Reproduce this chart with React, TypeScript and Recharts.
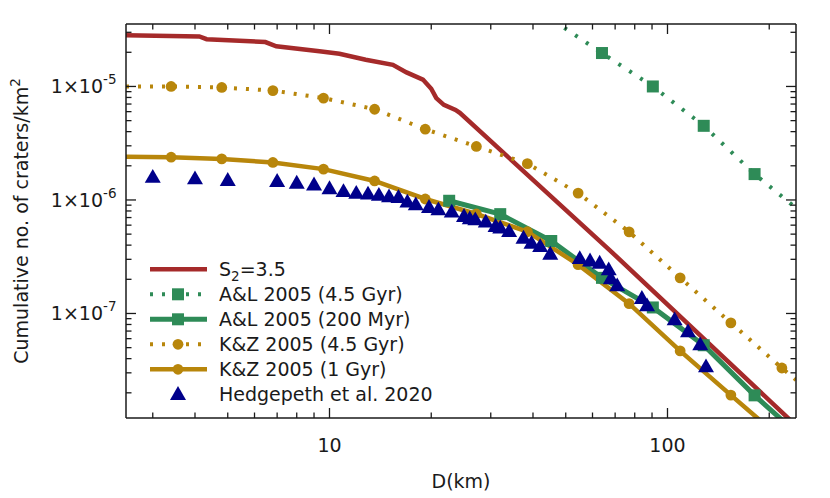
import React from "react";
import { ComposedChart, Line, Scatter, XAxis, YAxis, Legend, Label } from "recharts";

const FONT = '"DejaVu Sans", Verdana, sans-serif';
const INK = "#1a1a1a";
const RED = "#a52a2a";
const GREEN = "#2e8b57";
const GOLD = "#b8860b";
const BLUE = "#00008b";

// S2 = 3.5 model curve
const s2D = [2.5, 4.12, 4.33, 6.46, 6.96, 9.34, 10.7, 12.8, 15.4, 16.9, 18.9, 20.0, 20.7, 21.8, 23.6, 24.3, 67.4, 240];
const s2N = [2.83e-5, 2.76e-5, 2.61e-5, 2.46e-5, 2.26e-5, 2.04e-5, 1.94e-5, 1.72e-5, 1.55e-5, 1.33e-5, 1.15e-5, 9.55e-6, 7.9e-6, 6.89e-6, 6.22e-6, 5.86e-6, 3.62e-7, 1.03e-8];

// A&L 2005, 4.5 Gyr (first and last are line ends only)
const al45D = [46, 64, 90.5, 128, 181, 240];
const al45N = [3.8e-5, 1.97e-5, 1.0e-5, 4.5e-6, 1.69e-6, 8.5e-7];

// A&L 2005, 200 Myr (last is line end only)
const al200D = [22.6, 32, 45.3, 64, 90.5, 128, 181, 256];
const al200N = [9.84e-7, 7.5e-7, 4.35e-7, 2.06e-7, 1.13e-7, 5.25e-8, 1.9e-8, 7.5e-9];

// K&Z 2005 (first and last are line ends only)
const kz45D = [2.5, 3.4, 4.8, 6.8, 9.6, 13.6, 19.2, 27.2, 38.5, 54.4, 77, 109, 154, 218, 240];
const kz45N = [1.0e-5, 1.0e-5, 9.8e-6, 9.2e-6, 7.9e-6, 6.3e-6, 4.2e-6, 2.96e-6, 2.09e-6, 1.15e-6, 5.24e-7, 2.06e-7, 8.26e-8, 3.31e-8, 2.6e-8];
const kz1D = [2.5, 3.4, 4.8, 6.8, 9.6, 13.6, 19.2, 27.2, 38.5, 54.4, 77, 109, 154, 218];
const kz1N = [2.4e-6, 2.38e-6, 2.3e-6, 2.14e-6, 1.87e-6, 1.47e-6, 1.02e-6, 7.52e-7, 5.25e-7, 2.69e-7, 1.22e-7, 4.68e-8, 1.91e-8, 7.8e-9];

// Hedgepeth et al. 2020
const hD = [3, 4, 5, 7, 8, 9, 10, 11, 12, 13, 14, 15, 16, 17, 18, 19.7, 21, 23, 25, 26, 27, 29, 31, 32, 34, 37.5, 39.6, 42, 45, 55, 59, 63, 67, 68, 71, 84, 87, 105, 115, 125, 130];
const hN = [1.59e-6, 1.54e-6, 1.49e-6, 1.46e-6, 1.41e-6, 1.36e-6, 1.26e-6, 1.19e-6, 1.15e-6, 1.13e-6, 1.1e-6, 1.07e-6, 1.056e-6, 9.6e-7, 9.09e-7, 8.62e-7, 8.21e-7, 7.84e-7, 7.18e-7, 6.84e-7, 6.7e-7, 6.4e-7, 5.86e-7, 5.66e-7, 5.29e-7, 4.62e-7, 4.17e-7, 3.9e-7, 3.34e-7, 3.05e-7, 2.91e-7, 2.78e-7, 2.43e-7, 2.03e-7, 1.76e-7, 1.36e-7, 1.17e-7, 8.82e-8, 6.91e-8, 5.31e-8, 3.4e-8];

const xTicks = [3, 4, 5, 6, 7, 8, 9, 10, 20, 30, 40, 50, 60, 70, 80, 90, 100, 200];
const yTicks = [
  2e-8, 3e-8, 4e-8, 5e-8, 6e-8, 7e-8, 8e-8, 9e-8, 1e-7,
  2e-7, 3e-7, 4e-7, 5e-7, 6e-7, 7e-7, 8e-7, 9e-7, 1e-6,
  2e-6, 3e-6, 4e-6, 5e-6, 6e-6, 7e-6, 8e-6, 9e-6, 1e-5,
  2e-5, 3e-5,
];

const pts = (d: number[], n: number[]) => d.map((v, i) => ({ d: v, n: n[i] }));

const s2Line = pts(s2D, s2N);
const al45Line = pts(al45D, al45N);
const al200Line = pts(al200D, al200N);
const kz45Line = pts(kz45D, kz45N);
const kz1Line = pts(kz1D, kz1N);
const hedgepeth = pts(hD, hN);

const isMajor = (v: number) => Math.abs(Math.log10(v) - Math.round(Math.log10(v))) < 1e-6;

const Square = ({ cx, cy, fill }: any) => <rect x={cx - 6} y={cy - 6} width={12} height={12} fill={fill} />;
const Dot = ({ cx, cy, fill }: any) => <circle cx={cx} cy={cy} r={5.4} fill={fill} />;
const Tri = ({ cx, cy, fill }: any) => (
  <path d={`M${cx},${cy - 8.2}L${cx + 8},${cy + 5.6}L${cx - 8},${cy + 5.6}Z`} fill={fill} />
);

function BottomTick({ x, y, payload }: any) {
  const v = payload.value;
  const major = isMajor(v);
  return (
    <g>
      <line x1={x} x2={x} y1={y} y2={y - (major ? 10 : 5.5)} stroke={INK} strokeWidth={1.3} />
      {major && (
        <text x={x} y={y + 33.5} textAnchor="middle" fontSize={19} fontFamily={FONT} fill={INK}>
          {v}
        </text>
      )}
    </g>
  );
}

function TopTick({ x, y, payload }: any) {
  const major = isMajor(payload.value);
  return <line x1={x} x2={x} y1={y} y2={y + (major ? 10 : 5.5)} stroke={INK} strokeWidth={1.3} />;
}

function LeftTick({ x, y, payload }: any) {
  const v = payload.value;
  const major = isMajor(v);
  return (
    <g>
      <line x1={x} x2={x + (major ? 10 : 5.5)} y1={y} y2={y} stroke={INK} strokeWidth={1.3} />
      {major && (
        <text x={x - 9.5} y={y + 7} textAnchor="end" fontSize={19} fontFamily={FONT} fill={INK}>
          <tspan>1×10</tspan>
          <tspan dy={-9} fontSize={13.5}>{Math.round(Math.log10(v))}</tspan>
        </text>
      )}
    </g>
  );
}

function RightTick({ x, y, payload }: any) {
  const major = isMajor(payload.value);
  return <line x1={x} x2={x - (major ? 10 : 5.5)} y1={y} y2={y} stroke={INK} strokeWidth={1.3} />;
}

const legendRows = [
  { name: "S2=3.5", color: RED, dash: undefined, mark: null, width: 4.5 },
  { name: "A&L 2005 (4.5 Gyr)", color: GREEN, dash: "3 9", mark: "square", width: 4 },
  { name: "A&L 2005 (200 Myr)", color: GREEN, dash: undefined, mark: "square", width: 5 },
  { name: "K&Z 2005 (4.5 Gyr)", color: GOLD, dash: "3 9", mark: "circle", width: 4 },
  { name: "K&Z 2005 (1 Gyr)", color: GOLD, dash: undefined, mark: "circle", width: 4.5 },
  { name: "Hedgepeth et al. 2020", color: BLUE, dash: null, mark: "triangle", width: 0 },
];

function LegendBox() {
  return (
    <svg width={310} height={160} style={{ display: "block" }}>
      {legendRows.map((r, i) => {
        const cy = 14.3 + i * 25;
        const cx = 38;
        return (
          <g key={r.name}>
            {r.dash !== null && (
              <line x1={10} x2={67} y1={cy} y2={cy} stroke={r.color} strokeWidth={r.width} strokeDasharray={r.dash} />
            )}
            {r.mark === "square" && <Square cx={cx} cy={cy} fill={r.color} />}
            {r.mark === "circle" && <Dot cx={cx} cy={cy} fill={r.color} />}
            {r.mark === "triangle" && <Tri cx={cx} cy={cy} fill={r.color} />}
            {i === 0 ? (
              <text x={79} y={cy + 7} fontSize={19} fontFamily={FONT} fill={INK}>
                <tspan>S</tspan>
                <tspan dy={5} fontSize={13.5}>2</tspan>
                <tspan dy={-5}>=3.5</tspan>
              </text>
            ) : (
              <text x={79} y={cy + 7} fontSize={19} fontFamily={FONT} fill={INK}>
                {r.name}
              </text>
            )}
          </g>
        );
      })}
    </svg>
  );
}

const axisLine = { stroke: INK, strokeWidth: 1.5 };

export default function App() {
  return (
    <div style={{ position: "relative", width: 822, height: 490 }}>
      <ComposedChart width={822} height={490} margin={{ top: 15, right: 33, left: 0, bottom: 0 }}>
        <XAxis
          dataKey="d"
          type="number"
          scale="log"
          domain={[2.5, 240]}
          allowDataOverflow
          ticks={xTicks}
          interval={0}
          tickSize={0}
          tickMargin={0}
          tickLine={false}
          axisLine={axisLine}
          tick={<BottomTick />}
          height={80}
        >
          <Label
            content={() => (
              <text x={453} y={480} textAnchor="middle" fontSize={19} fontFamily={FONT} fill={INK}>
                D(km)
              </text>
            )}
          />
        </XAxis>
        <XAxis
          xAxisId="top"
          orientation="top"
          dataKey="d"
          type="number"
          scale="log"
          domain={[2.5, 240]}
          allowDataOverflow
          ticks={xTicks}
          interval={0}
          tickSize={0}
          tickMargin={0}
          tickLine={false}
          axisLine={axisLine}
          tick={<TopTick />}
          height={1}
        />
        <YAxis
          dataKey="n"
          type="number"
          scale="log"
          domain={[1.2e-8, 3.55e-5]}
          allowDataOverflow
          ticks={yTicks}
          interval={0}
          tickSize={0}
          tickMargin={0}
          tickLine={false}
          axisLine={axisLine}
          tick={<LeftTick />}
          width={118}
        >
          <Label
            content={() => (
              <text
                x={20}
                y={213}
                transform="rotate(-90 20 213)"
                textAnchor="middle"
                fontSize={19}
                fontFamily={FONT}
                fill={INK}
              >
                <tspan>Cumulative no. of craters/km</tspan>
                <tspan dy={-8} fontSize={13.5}>2</tspan>
              </text>
            )}
          />
        </YAxis>
        <YAxis
          yAxisId="right"
          orientation="right"
          dataKey="n"
          type="number"
          scale="log"
          domain={[1.2e-8, 3.55e-5]}
          allowDataOverflow
          ticks={yTicks}
          interval={0}
          tickSize={0}
          tickMargin={0}
          tickLine={false}
          axisLine={axisLine}
          tick={<RightTick />}
          width={1}
        />

        <Line data={s2Line} dataKey="n" type="linear" stroke={RED} strokeWidth={4.5} dot={false} isAnimationActive={false} />

        <Line data={al45Line} dataKey="n" type="linear" stroke={GREEN} strokeWidth={4} strokeDasharray="3 10" dot={false} isAnimationActive={false} />
        <Scatter data={al45Line.slice(1, -1)} dataKey="n" fill={GREEN} shape={<Square />} isAnimationActive={false} />

        <Line data={al200Line} dataKey="n" type="linear" stroke={GREEN} strokeWidth={5} dot={false} isAnimationActive={false} />
        <Scatter data={al200Line.slice(0, -1)} dataKey="n" fill={GREEN} shape={<Square />} isAnimationActive={false} />

        <Line data={kz45Line} dataKey="n" type="linear" stroke={GOLD} strokeWidth={4} strokeDasharray="3 9" dot={false} isAnimationActive={false} />
        <Scatter data={kz45Line.slice(1, -1)} dataKey="n" fill={GOLD} shape={<Dot />} isAnimationActive={false} />

        <Line data={kz1Line} dataKey="n" type="linear" stroke={GOLD} strokeWidth={4.5} dot={false} isAnimationActive={false} />
        <Scatter data={kz1Line.slice(1, -1)} dataKey="n" fill={GOLD} shape={<Dot />} isAnimationActive={false} />

        <Scatter data={hedgepeth} dataKey="n" fill={BLUE} shape={<Tri />} isAnimationActive={false} />

        <Legend
          layout="vertical"
          align="center"
          verticalAlign="middle"
          wrapperStyle={{ left: 132, top: 247, width: 310 }}
          content={() => <LegendBox />}
        />
      </ComposedChart>
    </div>
  );
}
